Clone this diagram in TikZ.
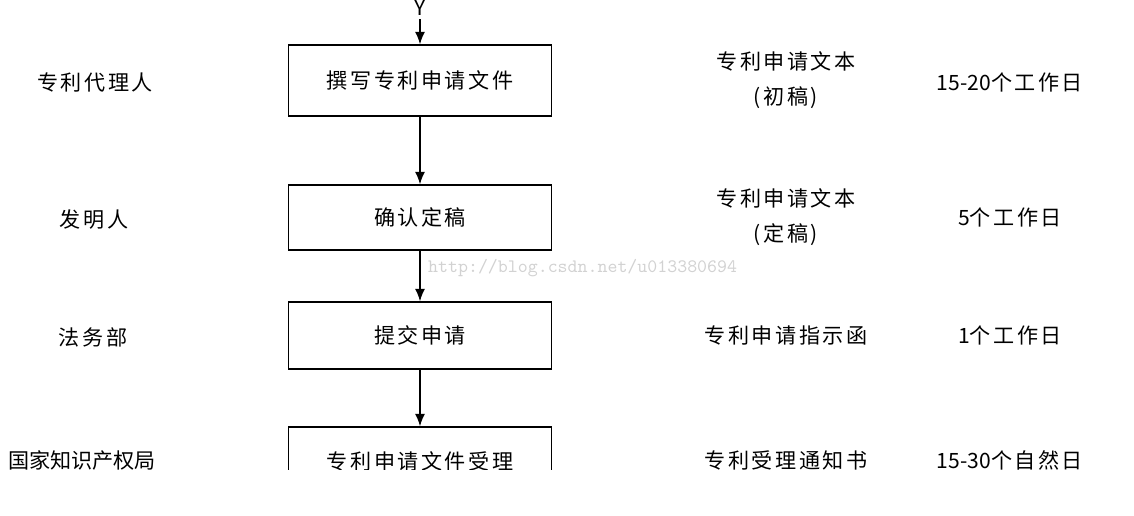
\documentclass[tikz,border=0pt]{standalone}
\usepackage{fontspec}
\newfontfamily\cjk[LetterSpace=12]{Noto Sans CJK SC}
\newfontfamily\cjktight{Noto Sans CJK SC}
\usetikzlibrary{arrows.meta}

\begin{document}
\begin{tikzpicture}[
        task/.style = {shape = rectangle, draw = black, line width = 0.8pt, minimum width = 5.26cm, minimum height = 1.36cm, inner sep = 0.1cm, font = \cjk\fontsize{12}{15}\selectfont},
        who/.style = {font = \cjk\fontsize{12}{15}\selectfont},
        doc/.style = {align = center, font = \cjk\fontsize{12}{20}\selectfont},
        days/.style = {font = \cjk\fontsize{12}{15}\selectfont},
        flow/.style = {-{Latex[length = 2.5mm, width = 2mm]}, line width = 0.8pt},
    ]
    \useasboundingbox (0,0) rectangle (22.68,-10.3);
    \begin{scope}
    \clip (0,0) rectangle (22.68,-9.38);
    \node[font = \cjktight\fontsize{12}{14}\selectfont, inner sep = 2pt] (Y) at (8.4,-0.15) {Y};
    \node[task, minimum height = 1.42cm] (write) at (8.4,-1.61) {撰写专利申请文件};
    \node[task, minimum height = 1.30cm] (confirm) at (8.4,-4.35) {确认定稿};
    \node[task, minimum height = 1.34cm] (submit) at (8.4,-6.71) {提交申请};
    \node[task, minimum height = 1.38cm] (accept) at (8.4,-9.23) {专利申请文件受理};

    \node[who] (agent) at (1.9,-1.64) {专利代理人};
    \node[who] (inventor) at (1.88,-4.4) {发明人};
    \node[who] (legal) at (1.86,-6.74) {法务部};
    \node[who, font = \cjktight\fontsize{12}{15}\selectfont] (sipo) at (1.64,-9.2) {国家知识产权局};

    \node[doc] (draft) at (15.72,-1.61) {专利申请文本\\(初稿)};
    \node[doc] (final) at (15.72,-4.35) {专利申请文本\\(定稿)};
    \node[doc] (letter) at (15.72,-6.7) {专利申请指示函};
    \node[doc] (notice) at (15.72,-9.2) {专利受理通知书};

    \node[days] (t1) at (20.2,-1.64) {{\cjktight 15-20}个工作日};
    \node[days] (t2) at (20.2,-4.34) {{\cjktight 5}个工作日};
    \node[days] (t3) at (20.2,-6.7) {{\cjktight 1}个工作日};
    \node[days] (t4) at (20.2,-9.2) {{\cjktight 15-30}个自然日};

    \node[anchor = west, text = gray!35, font = \ttfamily\fontsize{10.8}{12}\selectfont] (url) at (8.44,-5.36) {http://blog.csdn.net/u013380694};

    \path[flow] (Y) edge (write);
    \path[flow] (write) edge (confirm);
    \path[flow] (confirm) edge (submit);
    \path[flow] (submit) edge (accept);
    \end{scope}
\end{tikzpicture}
\end{document}
